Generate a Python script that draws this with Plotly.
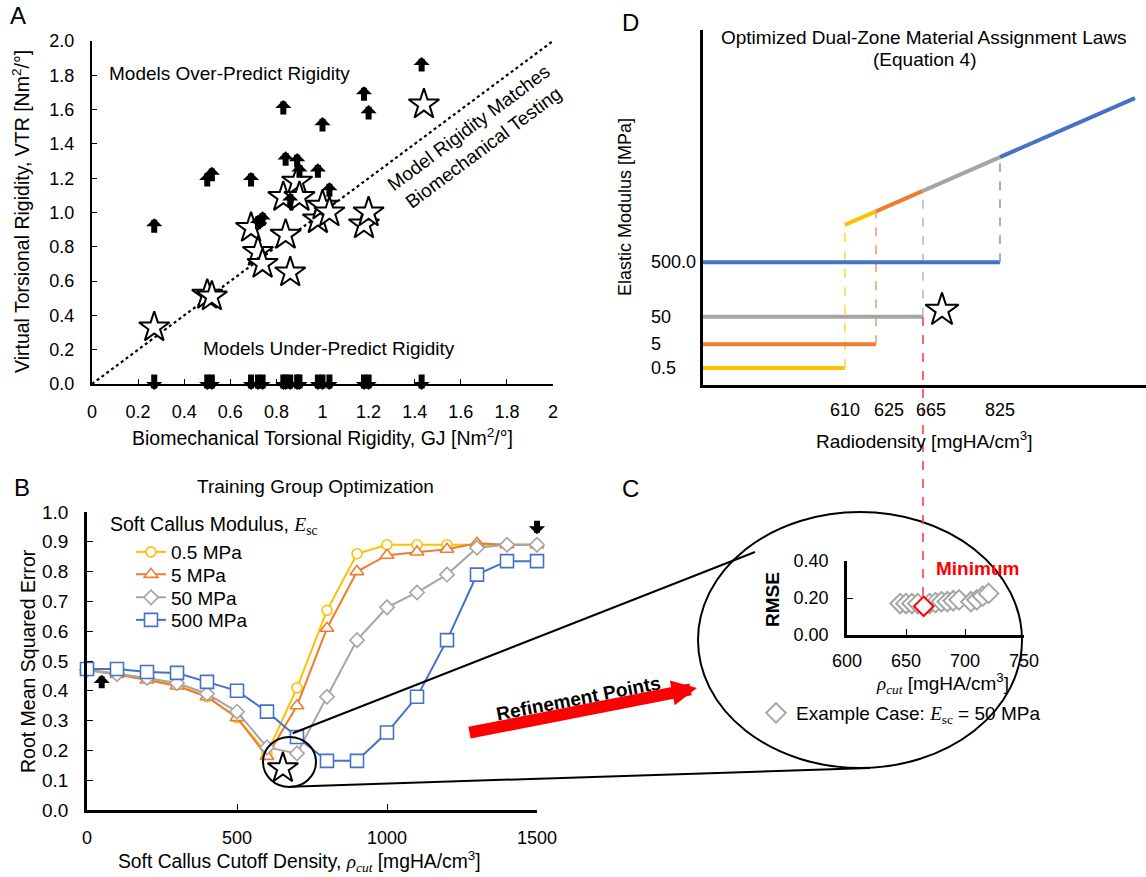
import plotly.graph_objects as go

W, H = 1146, 877
SANS = "Liberation Sans, Arial, sans-serif"
MATH = "font-family:Liberation Serif"


def X(px):
    return px / W


def Y(py):
    return 1 - py / H


# ---------------- Panel A data ----------------
a_star_gj = [0.27, 0.50, 0.52, 0.69, 0.72, 0.74, 0.83, 0.84, 0.86, 0.89, 0.90, 0.98, 1.00, 1.03, 1.18, 1.20, 1.44]
a_star_vtr = [0.33, 0.52, 0.51, 0.91, 0.77, 0.70, 1.09, 0.87, 0.65, 1.18, 1.09, 0.96, 1.04, 1.00, 0.93, 1.00, 1.63]
a_arrow_gj = [0.27, 0.50, 0.52, 0.69, 0.72, 0.74, 0.83, 0.84, 0.86, 0.89, 0.90, 0.98, 1.00, 1.03, 1.18, 1.20, 1.43]
a_arrow_vtr = [0.92, 1.19, 1.22, 1.19, 0.94, 0.96, 1.61, 1.31, 1.07, 1.30, 1.24, 1.24, 1.51, 1.13, 1.69, 1.58, 1.86]
a_identity = [0, 2]

# ---------------- Panel B data ----------------
b_rho = [0, 100, 200, 300, 400, 500, 600, 700, 800, 900, 1000, 1100, 1200, 1300, 1400, 1500]
b_names = ["0.5 MPa", "5 MPa", "50 MPa", "500 MPa"]
b_rmse_05 = [0.47, 0.46, 0.44, 0.42, 0.38, 0.31, 0.19, 0.41, 0.67, 0.86, 0.89, 0.89, 0.89, 0.89, 0.89, 0.89]
b_rmse_5 = [0.47, 0.455, 0.436, 0.416, 0.38, 0.31, 0.18, 0.35, 0.61, 0.80, 0.855, 0.866, 0.875, 0.895, 0.89, 0.89]
b_rmse_50 = [0.47, 0.456, 0.443, 0.426, 0.39, 0.33, 0.21, 0.19, 0.38, 0.57, 0.68, 0.73, 0.79, 0.88, 0.89, 0.89]
b_rmse_500 = [0.473, 0.473, 0.463, 0.46, 0.43, 0.40, 0.33, 0.245, 0.165, 0.165, 0.26, 0.38, 0.57, 0.79, 0.835, 0.835]
b_best = (653, 0.14)
b_arrow_up = (49, 0.43)
b_arrow_down = (1500, 0.925)

# ---------------- Panel C data ----------------
c_rho = [645, 650, 655, 660, 670, 675, 680, 685, 690, 695, 705, 710, 715, 720]
c_rmse = [0.17, 0.17, 0.17, 0.17, 0.17, 0.175, 0.18, 0.18, 0.185, 0.19, 0.18, 0.19, 0.21, 0.225]
c_min_rho = [665]
c_min_rmse = [0.155]

# ---------------- Panel D data (schematic) ----------------
d_cut_labels = ["610", "625", "665", "825"]
d_cut_pos = [32.05, 39.05, 49.66, 67.04]
d_cut_label_pos = [32.05, 42.0, 51.5, 67.04]
d_mod_labels = ["0.5", "5", "50", "500.0"]
d_mod_level = [4.8, 11.5, 19.2, 34.6]
d_ramp_x = [32.05, 39.05, 49.66, 67.04, 97.5]
d_ramp_y = [45.1, 48.9, 54.7, 64.2, 80.8]
d_star = (53.95, 21.1)

COLORS = ["#FFC000", "#ED7D31", "#A5A5A5", "#4472C4"]
DASH_COLORS = ["#FFD34D", "#F2A06E", "#A5A5A5", "#7FA0DA"]
SYMBOLS = ["circle", "triangle-up", "diamond", "square"]
MSIZES = [10, 12, 11, 13]
LEGEND_IDS = ["legend", "legend2", "legend3", "legend4"]
LEGEND_ROWS = [552, 574.5, 597.5, 620]

ARW = dict(arrowhead=1, arrowwidth=6, arrowsize=0.45, arrowcolor="black")

fig = go.Figure()

# ---------- Panel A ----------
fig.add_trace(go.Scatter(x=a_identity, y=a_identity, mode="lines", xaxis="x", yaxis="y",
                         line=dict(color="black", width=2.2, dash="dot"), showlegend=False, hoverinfo="skip"))
fig.add_trace(go.Scatter(x=a_star_gj, y=a_star_vtr, mode="markers", xaxis="x", yaxis="y",
                         marker=dict(symbol="star", size=23, color="white", line=dict(color="black", width=2)),
                         showlegend=False, cliponaxis=False))
for gx, v in zip(a_arrow_gj, a_arrow_vtr):
    fig.add_annotation(x=gx, y=v, xref="x", yref="y", text="", showarrow=True, ax=0, ay=16, yshift=8, **ARW)
for gx in a_arrow_gj:
    fig.add_annotation(x=gx, y=0, xref="x", yref="y", text="", showarrow=True, ax=0, ay=-17, yshift=-6, **ARW)

# ---------- Panel B ----------
series_b = [b_rmse_05, b_rmse_5, b_rmse_50, b_rmse_500]
for i, ys in enumerate(series_b):
    fig.add_trace(go.Scatter(x=b_rho, y=ys, mode="lines+markers", name=b_names[i], xaxis="x2", yaxis="y2",
                             line=dict(color=COLORS[i], width=2),
                             marker=dict(symbol=SYMBOLS[i], size=MSIZES[i], color="white",
                                         line=dict(color=COLORS[i], width=1.6)),
                             cliponaxis=False, legend=LEGEND_IDS[i]))
fig.add_trace(go.Scatter(x=[b_best[0]], y=[b_best[1]], mode="markers", xaxis="x2", yaxis="y2",
                         marker=dict(symbol="star", size=23, color="white", line=dict(color="black", width=2)),
                         showlegend=False, cliponaxis=False))
fig.add_annotation(x=b_arrow_up[0], y=b_arrow_up[1], xref="x2", yref="y2", text="", showarrow=True,
                   ax=0, ay=15, yshift=7, **ARW)
fig.add_annotation(x=b_arrow_down[0], y=b_arrow_down[1], xref="x2", yref="y2", text="", showarrow=True,
                   ax=0, ay=-15, **ARW)

# ---------- Panel C ----------
fig.add_trace(go.Scatter(x=c_rho, y=c_rmse, mode="markers", xaxis="x3", yaxis="y3",
                         name=f"Example Case: <span style='{MATH}'><i>E</i><sub>sc</sub></span> = 50 MPa",
                         marker=dict(symbol="diamond", size=15, color="white", line=dict(color="#A5A5A5", width=2)),
                         cliponaxis=False, legend="legend5"))
fig.add_trace(go.Scatter(x=c_min_rho, y=c_min_rmse, mode="markers", xaxis="x3", yaxis="y3",
                         marker=dict(symbol="diamond", size=15, color="white", line=dict(color="#FF0000", width=2)),
                         cliponaxis=False, showlegend=False))

# ---------- Panel D ----------
for i in range(4):
    fig.add_trace(go.Scatter(x=[0, d_cut_pos[i]], y=[d_mod_level[i], d_mod_level[i]], mode="lines",
                             xaxis="x4", yaxis="y4", line=dict(color=COLORS[i], width=4), showlegend=False,
                             hoverinfo="skip", cliponaxis=False))
    dw = 1.6 if i != 2 else 1.2
    fig.add_trace(go.Scatter(x=[d_cut_pos[i], d_cut_pos[i]], y=[d_mod_level[i], d_ramp_y[i]], mode="lines",
                             xaxis="x4", yaxis="y4", line=dict(color=DASH_COLORS[i], width=dw, dash="dash"),
                             showlegend=False, hoverinfo="skip"))
    fig.add_trace(go.Scatter(x=d_ramp_x[i:i + 2], y=d_ramp_y[i:i + 2], mode="lines",
                             xaxis="x4", yaxis="y4", line=dict(color=COLORS[i], width=4), showlegend=False,
                             hoverinfo="skip"))
fig.add_trace(go.Scatter(x=[d_star[0]], y=[d_star[1]], mode="markers", xaxis="x4", yaxis="y4",
                         marker=dict(symbol="star", size=25, color="white", line=dict(color="black", width=2)),
                         showlegend=False))
for lab, lvl in zip(d_mod_labels, d_mod_level):
    fig.add_annotation(x=X(649), y=lvl, xref="paper", yref="y4", text=lab, showarrow=False,
                       xanchor="left", yanchor="middle", font=dict(size=18))
for lab, pos in zip(d_cut_labels, d_cut_label_pos):
    fig.add_annotation(x=pos, y=Y(410), xref="x4", yref="paper", text=lab, showarrow=False,
                       xanchor="center", yanchor="middle", font=dict(size=18))


# ---------- text annotations ----------
def txt(x, y, text, size=19, angle=0, color="black", anchor="center"):
    fig.add_annotation(x=X(x), y=Y(y), xref="paper", yref="paper", text=text, showarrow=False,
                       xanchor=anchor, yanchor="middle", textangle=angle,
                       font=dict(size=size, color=color, family=SANS))


txt(18, 16, "A", 24)
txt(22, 487, "B", 24)
txt(630, 489, "C", 24)
txt(630, 22, "D", 24)

txt(229, 73, "Models Over-Predict Rigidity")
txt(329, 348, "Models Under-Predict Rigidity")
txt(476, 138, "Model Rigidity Matches<br>Biomechanical Testing", angle=-36.7)
txt(21, 212, "Virtual Torsional Rigidity, VTR [Nm<sup>2</sup>/°]", size=19.5, angle=-90)
txt(322, 437, "Biomechanical Torsional Rigidity, GJ [Nm<sup>2</sup>/°]", size=19.5)

txt(315, 486, "Training Group Optimization")
txt(28, 661, "Root Mean Squared Error", size=19.5, angle=-90)
txt(299, 861, f"Soft Callus Cutoff Density, <span style='{MATH}'><i>ρ</i><sub><i>cut</i></sub></span> [mgHA/cm<sup>3</sup>]",
    size=19.3)
txt(108, 525, f"Soft Callus Modulus, <span style='{MATH}'><i>E</i><sub>sc</sub></span>", size=19.5, anchor="left")

txt(578, 698, "<b>Refinement Points</b>")  # placeholder replaced below
fig.layout.annotations[-1].textangle = -11

txt(924, 37, "Optimized Dual-Zone Material Assignment Laws")
txt(925, 60, "(Equation 4)")
txt(625, 207, "Elastic Modulus [MPa]", size=18)
fig.layout.annotations[-1].textangle = -90
txt(924, 440, "Radiodensity [mgHA/cm<sup>3</sup>]")

txt(772, 600, "<b>RMSE</b>", angle=-90)
txt(977, 568, "<b>Minimum</b>", color="#FF0000")
txt(942, 683, f"<span style='{MATH}'><i>ρ</i><sub><i>cut</i></sub></span> [mgHA/cm<sup>3</sup>]")

# big red arrow
fig.add_annotation(x=X(697), y=Y(688), xref="paper", yref="paper", text="", showarrow=True,
                   ax=468 - 697, ay=733 - 688, arrowhead=2, arrowwidth=12, arrowsize=0.42, arrowcolor="#FF0000")

# ---------- shapes ----------
shapes = []
shapes.append(dict(type="circle", xref="paper", yref="paper", x0=X(263), x1=X(316), y0=Y(787), y1=Y(737),
                   line=dict(color="black", width=2)))
shapes.append(dict(type="circle", xref="paper", yref="paper", x0=X(698), x1=X(1022), y0=Y(768), y1=Y(512),
                   line=dict(color="black", width=2)))
shapes.append(dict(type="line", xref="paper", yref="paper", x0=X(292.7), y0=Y(733.3), x1=X(755), y1=Y(552),
                   line=dict(color="black", width=2)))
shapes.append(dict(type="line", xref="paper", yref="paper", x0=X(290), y0=Y(786.7), x1=X(870), y1=Y(768),
                   line=dict(color="black", width=2)))
shapes.append(dict(type="line", xref="x4", yref="paper", x0=d_cut_pos[2], x1=d_cut_pos[2], y0=Y(317), y1=Y(597),
                   line=dict(color="#FF4040", width=1.6, dash="dash")))

axis_common = dict(showgrid=False, zeroline=False, showline=True, linecolor="black", ticks="inside",
                   tickcolor="black", tickfont=dict(size=18, family=SANS, color="black"), automargin=False)

legends = {}
for i, lid in enumerate(LEGEND_IDS):
    legends[lid] = dict(x=X(131), y=Y(LEGEND_ROWS[i]), xanchor="left", yanchor="middle",
                        bgcolor="rgba(0,0,0,0)", font=dict(size=19, family=SANS))
legends["legend5"] = dict(x=X(756), y=Y(713), xanchor="left", yanchor="middle", bgcolor="rgba(0,0,0,0)",
                          font=dict(size=19, family=SANS))

fig.update_layout(
    width=W, height=H, margin=dict(l=0, r=0, t=0, b=0, pad=0, autoexpand=False),
    paper_bgcolor="white", plot_bgcolor="rgba(0,0,0,0)",
    font=dict(family=SANS, size=18, color="black"),
    shapes=shapes,
    xaxis=dict(domain=[X(92), X(553)], range=[0, 2], dtick=0.2, anchor="y", linewidth=2, ticklen=5,
               ticklabelstandoff=10, **axis_common),
    yaxis=dict(domain=[Y(384), Y(41)], range=[0, 2], dtick=0.2, tickformat=".1f", anchor="x", linewidth=2,
               ticklen=5, ticklabelstandoff=12, **axis_common),
    xaxis2=dict(domain=[X(87), X(537)], range=[0, 1500], tickvals=[0, 500, 1000, 1500], anchor="y2",
                linewidth=2.5, ticklen=6, ticklabelstandoff=10, **axis_common),
    yaxis2=dict(domain=[Y(810), Y(512)], range=[0, 1], dtick=0.1, tickformat=".1f", anchor="x2",
                linewidth=2.5, ticklen=6, ticklabelstandoff=12, **axis_common),
    xaxis3=dict(domain=[X(847), X(1024)], range=[600, 750], dtick=50, anchor="y3", linewidth=2.5, ticklen=6,
                ticklabelstandoff=8, **axis_common),
    yaxis3=dict(domain=[Y(635), Y(561)], range=[0, 0.4], tickvals=[0, 0.2, 0.4], tickformat=".2f", anchor="x3",
                linewidth=2.5, ticklen=6, ticklabelstandoff=12, **axis_common),
    xaxis4=dict(domain=[X(703), X(1146)], range=[0, 100], anchor="y4", showgrid=False, zeroline=False,
                showline=True, linecolor="black", linewidth=3, showticklabels=False, ticks="", automargin=False),
    yaxis4=dict(domain=[Y(385), Y(30)], range=[0, 100], anchor="x4", showgrid=False, zeroline=False,
                showline=True, linecolor="black", linewidth=3, showticklabels=False, ticks="", automargin=False),
    **legends,
)
fig.update_yaxes(tickfont=dict(size=19), selector=dict(anchor="x2"))

fig.write_html("out.html", config={"displayModeBar": False},
               post_script="document.body.style.margin='0px';document.body.style.padding='0px';"
                           "document.body.style.overflow='hidden';")
